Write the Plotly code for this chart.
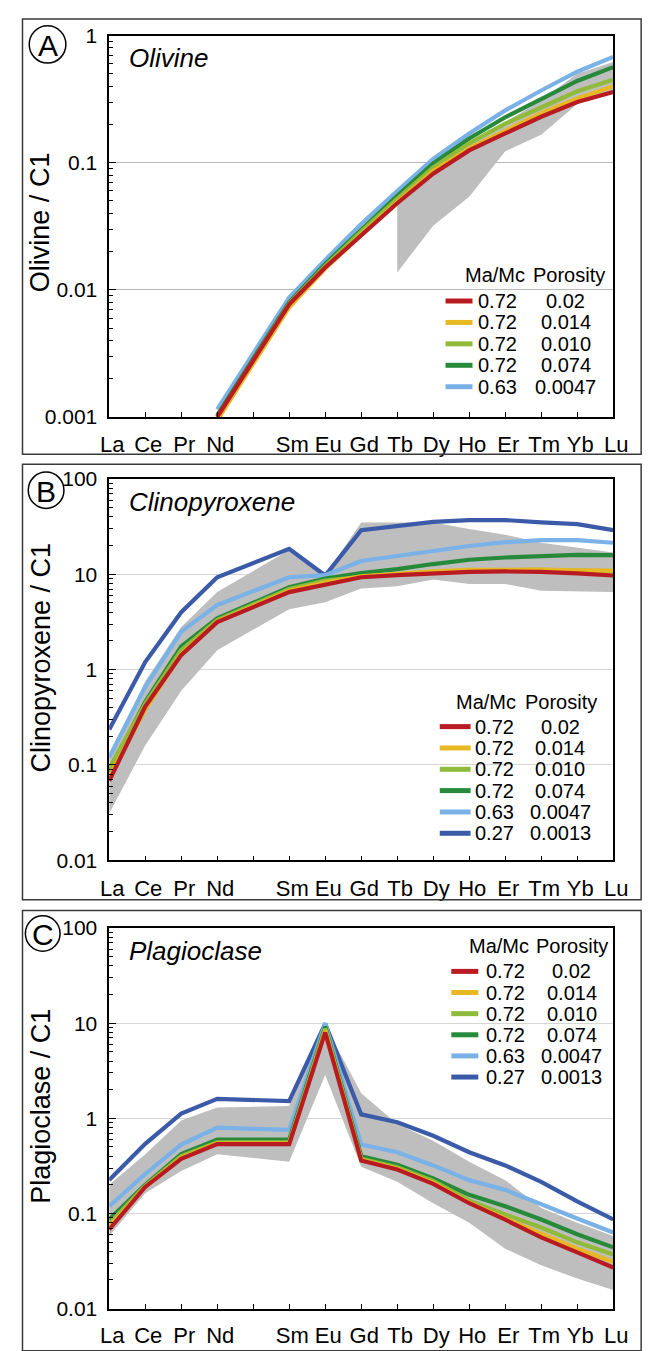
import plotly.graph_objects as go

W, H = 660, 1351

# REE order on the x axis (Pm has no data but keeps its slot)
elements = ["La", "Ce", "Pr", "Nd", "Pm", "Sm", "Eu", "Gd", "Tb", "Dy", "Ho", "Er", "Tm", "Yb", "Lu"]
tick_labels = ["La", "Ce", "Pr", "Nd", "", "Sm", "Eu", "Gd", "Tb", "Dy", "Ho", "Er", "Tm", "Yb", "Lu"]

# model runs: Ma/Mc ratio and porosity
mamc = ["0.72", "0.72", "0.72", "0.72", "0.63", "0.27"]
porosity = ["0.02", "0.014", "0.010", "0.074", "0.0047", "0.0013"]
colors = ["#b81c22", "#e8b824", "#8fba3a", "#278a3b", "#7ab2e8", "#3b5ba9"]
band_color = "#bdbebd"

N = None
# ---------------- Olivine / C1 ----------------
ol_runs = [
    [N, N, N, 0.00100, N, 0.0077, 0.0150, 0.0270, 0.048, 0.082, 0.125, 0.170, 0.230, 0.300, 0.360],
    [N, N, N, 0.00094, N, 0.0073, 0.0147, 0.0272, 0.049, 0.086, 0.130, 0.180, 0.245, 0.320, 0.400],
    [N, N, N, 0.00098, N, 0.0078, 0.0154, 0.0288, 0.052, 0.092, 0.142, 0.203, 0.272, 0.365, 0.450],
    [N, N, N, 0.00103, N, 0.0080, 0.0160, 0.0300, 0.055, 0.099, 0.155, 0.228, 0.320, 0.440, 0.565],
    [N, N, N, 0.00115, N, 0.0087, 0.0172, 0.0330, 0.060, 0.107, 0.170, 0.258, 0.370, 0.520, 0.680],
]
ol_band_upper = [N, N, N, N, N, N, N, N, 0.050, 0.090, 0.140, 0.210, 0.310, 0.500, 0.620]
ol_band_lower = [N, N, N, N, N, N, N, N, 0.0137, 0.032, 0.054, 0.123, 0.166, 0.290, 0.360]

# ---------------- Clinopyroxene / C1 ----------------
cpx_runs = [
    [0.068, 0.41, 1.42, 3.15, N, 6.5, 7.8, 9.3, 9.8, 10.3, 10.6, 10.7, 10.6, 10.2, 9.7],
    [0.075, 0.38, 1.45, 3.20, N, 6.7, 8.2, 9.5, 10.1, 10.7, 11.1, 11.2, 11.2, 11.0, 10.9],
    [0.092, 0.44, 1.60, 3.30, N, 7.0, 8.6, 9.4, 10.0, 10.6, 11.0, 11.1, 11.1, 10.9, 10.8],
    [0.085, 0.46, 1.75, 3.46, N, 7.3, 9.0, 10.3, 11.3, 12.8, 14.2, 15.0, 15.6, 16.0, 15.9],
    [0.120, 0.66, 2.50, 4.75, N, 9.3, 9.8, 13.8, 15.6, 17.5, 19.8, 21.7, 22.8, 22.8, 21.4],
    [0.235, 1.20, 4.00, 9.30, N, 18.5, 9.7, 29.0, 32.0, 35.5, 37.0, 37.0, 35.0, 33.5, 29.0],
]
cpx_band_upper = [0.12, 0.75, 2.8, 6.5, N, 18.0, 9.8, 35.0, 35.0, 35.0, 29.8, 26.0, 21.4, 19.0, 16.9]
cpx_band_lower = [0.031, 0.16, 0.60, 1.6, N, 4.3, 5.1, 7.1, 7.5, 8.8, 7.9, 7.9, 6.7, 6.6, 6.5]

# ---------------- Plagioclase / C1 ----------------
plg_runs = [
    [0.068, 0.190, 0.375, 0.535, N, 0.535, 8.0, 0.360, 0.290, 0.205, 0.128, 0.0860, 0.0560, 0.0390, 0.0270],
    [0.072, 0.190, 0.385, 0.545, N, 0.545, 8.4, 0.365, 0.295, 0.210, 0.130, 0.0885, 0.0605, 0.0425, 0.0310],
    [0.078, 0.195, 0.400, 0.560, N, 0.560, 8.8, 0.375, 0.305, 0.220, 0.137, 0.0975, 0.0710, 0.0497, 0.0370],
    [0.0865, 0.200, 0.420, 0.596, N, 0.596, 9.2, 0.400, 0.325, 0.233, 0.157, 0.1190, 0.0865, 0.0605, 0.0440],
    [0.119, 0.260, 0.530, 0.800, N, 0.755, 10.0, 0.530, 0.440, 0.320, 0.224, 0.1770, 0.1240, 0.0885, 0.0630],
    [0.224, 0.540, 1.120, 1.600, N, 1.520, 9.9, 1.100, 0.910, 0.655, 0.440, 0.3200, 0.2150, 0.1340, 0.0865],
]
plg_band_upper = [0.20, 0.42, 0.95, 1.30, N, 1.35, 9.5, 1.84, 0.87, 0.58, 0.35, 0.224, 0.114, 0.080, 0.058]
plg_band_lower = [0.058, 0.163, 0.28, 0.42, N, 0.35, 2.85, 0.31, 0.215, 0.128, 0.080, 0.0425, 0.0285, 0.0207, 0.0157]

positions = list(range(len(elements)))


def px(x):
    return x / W


def py(y):
    return 1 - y / H


fig = go.Figure()

panels = [
    dict(runs=ol_runs, up=ol_band_upper, lo=ol_band_lower, top=24, bottom=412,
         yr=(-3, 0), title="Olivine / C1", name="Olivine", ttl_y=214,
         letter="A", circ=(40, 33, 19), frame=(7, 450), grid="#b9b9b9", xstand=7,
         leg=dict(title_y=268, row0=294, step=21.8, sw=(453, 481), val_x=485,
                  por_x=578, ma_c=504, po_c=581, box=(443, 619, 252, 395))),
    dict(runs=cpx_runs, up=cpx_band_upper, lo=cpx_band_lower, top=475, bottom=863,
         yr=(-2, 2), title="Clinopyroxene / C1", name="Clinopyroxene", ttl_y=657,
         letter="B", circ=(38.5, 486.5, 18.5), frame=(460, 903), grid="#d6d6d6", xstand=8,
         leg=dict(title_y=702, row0=727, step=21.7, sw=(447, 479), val_x=482,
                  por_x=572, ma_c=495, po_c=573, box=(441, 610, 686, 850))),
    dict(runs=plg_runs, up=plg_band_upper, lo=plg_band_lower, top=932, bottom=1319,
         yr=(-2, 2), title="Plagioclase / C1", name="Plagioclase", ttl_y=1113,
         letter="C", circ=(35, 937.5, 18), frame=(914, 1362), grid="#d6d6d6", xstand=6,
         leg=dict(title_y=950, row0=976, step=21.5, sw=(459, 487), val_x=493,
                  por_x=584, ma_c=508, po_c=584, box=(445, 618, 936, 1098))),
]

font_family = "Liberation Sans, Arial, Helvetica, sans-serif"
shapes = []
annotations = []
layout_axes = {}

for i, p in enumerate(panels):
    k = "" if i == 0 else str(i + 1)
    xa, ya = "x" + k, "y" + k

    # envelope of observed compositions
    bx = [positions[j] for j in range(len(elements)) if p["up"][j] is not None]
    bu = [p["up"][j] for j in range(len(elements)) if p["up"][j] is not None]
    bl = [p["lo"][j] for j in range(len(elements)) if p["lo"][j] is not None]
    fig.add_trace(go.Scatter(x=bx + bx[::-1], y=bu + bl[::-1], fill="toself",
                             fillcolor=band_color, line=dict(width=0),
                             mode="lines", hoverinfo="skip", showlegend=False,
                             xaxis=xa, yaxis=ya))

    # model curves, last run drawn first so the first run sits on top
    for r in reversed(range(len(p["runs"]))):
        fig.add_trace(go.Scatter(x=positions, y=p["runs"][r], mode="lines",
                                 connectgaps=True,
                                 line=dict(color=colors[r], width=4.2),
                                 name=f"{mamc[r]} {porosity[r]}", showlegend=False,
                                 xaxis=xa, yaxis=ya))

    lo_exp, hi_exp = p["yr"]
    major = [10.0 ** e for e in range(lo_exp, hi_exp + 1)]
    major_txt = [("%g" % v) if v >= 1 else ("%.*f" % (-e, v))
                 for v, e in zip(major, range(lo_exp, hi_exp + 1))]
    minor = [d * 10.0 ** e for e in range(lo_exp, hi_exp) for d in range(2, 10)]

    dom_y = [py(p["bottom"]), py(p["top"])]
    layout_axes["xaxis" + k] = dict(
        domain=[px(104), px(627)], anchor=ya, range=[0, 14],
        tickmode="array", tickvals=positions, ticktext=tick_labels,
        ticks="inside", ticklen=5, tickcolor="black", tickwidth=1,
        showline=True, linecolor="black", linewidth=1.5, mirror=True,
        showgrid=False, zeroline=False, ticklabelstandoff=p["xstand"], ticklabelshift=3,
        tickfont=dict(family=font_family, size=22, color="black"))
    layout_axes["yaxis" + k] = dict(
        domain=dom_y, anchor=xa, type="log", range=[lo_exp, hi_exp],
        tickmode="array", tickvals=major, ticktext=major_txt,
        ticks="inside", ticklen=7, tickcolor="black", tickwidth=1,
        minor=dict(tickmode="array", tickvals=minor, ticks="inside",
                   ticklen=4, tickcolor="black", showgrid=False),
        showline=True, linecolor="black", linewidth=1.5, mirror=True,
        showgrid=True, gridcolor=p["grid"], gridwidth=1, zeroline=False,
        ticklabelstandoff=6,
        tickfont=dict(family=font_family, size=21, color="black"))

    # panel frame
    f0, f1 = p["frame"]
    shapes.append(dict(type="rect", xref="paper", yref="paper",
                       x0=px(14), x1=px(656), y0=py(f1), y1=py(f0),
                       line=dict(color="#3a3a3a", width=1.5), layer="above"))
    # circled panel letter
    cx, cy, cr = p["circ"]
    shapes.append(dict(type="circle", xref="paper", yref="paper",
                       x0=px(cx - cr), x1=px(cx + cr), y0=py(cy + cr), y1=py(cy - cr),
                       line=dict(color="black", width=1.5), layer="above"))
    annotations.append(dict(x=px(cx), y=py(cy + 1), xref="paper", yref="paper",
                            text=p["letter"], showarrow=False, xanchor="center",
                            yanchor="middle",
                            font=dict(family=font_family, size=30, color="black")))
    # mineral name
    annotations.append(dict(x=px(122), y=py(p["top"] + 23), xref="paper", yref="paper",
                            text="<i>%s</i>" % p["name"], showarrow=False,
                            xanchor="left", yanchor="middle",
                            font=dict(family=font_family, size=26, color="black")))
    # y-axis title
    annotations.append(dict(x=px(33), y=py(p["ttl_y"]), xref="paper", yref="paper",
                            text=p["title"], textangle=-90, showarrow=False,
                            xanchor="center", yanchor="middle",
                            font=dict(family=font_family, size=27, color="black")))

    # legend block
    lg = p["leg"]
    b0, b1, b2, b3 = lg["box"]
    shapes.append(dict(type="rect", xref="paper", yref="paper",
                       x0=px(b0), x1=px(b1), y0=py(b3), y1=py(b2),
                       fillcolor="white", line=dict(width=0), layer="between"))
    lf = dict(family=font_family, size=20, color="black")
    annotations.append(dict(x=px(lg["ma_c"]), y=py(lg["title_y"]), xref="paper",
                            yref="paper", text="Ma/Mc", showarrow=False,
                            xanchor="center", yanchor="middle", font=lf))
    annotations.append(dict(x=px(lg["po_c"]), y=py(lg["title_y"]), xref="paper",
                            yref="paper", text="Porosity", showarrow=False,
                            xanchor="center", yanchor="middle", font=lf))
    for r in range(len(p["runs"])):
        ry = lg["row0"] + r * lg["step"]
        shapes.append(dict(type="line", xref="paper", yref="paper",
                           x0=px(lg["sw"][0]), x1=px(lg["sw"][1]), y0=py(ry), y1=py(ry),
                           line=dict(color=colors[r], width=5), layer="above"))
        annotations.append(dict(x=px(lg["val_x"]), y=py(ry), xref="paper", yref="paper",
                                text=mamc[r], showarrow=False, xanchor="left",
                                yanchor="middle", font=lf))
        annotations.append(dict(x=px(lg["por_x"]), y=py(ry), xref="paper", yref="paper",
                                text=porosity[r], showarrow=False, xanchor="center",
                                yanchor="middle", font=lf))

fig.update_layout(
    width=W, height=H, margin=dict(l=0, r=0, t=0, b=0),
    paper_bgcolor="white", plot_bgcolor="white",
    showlegend=False, shapes=shapes, annotations=annotations,
    font=dict(family=font_family, color="black"),
    **layout_axes,
)

fig.write_html("out.html")
